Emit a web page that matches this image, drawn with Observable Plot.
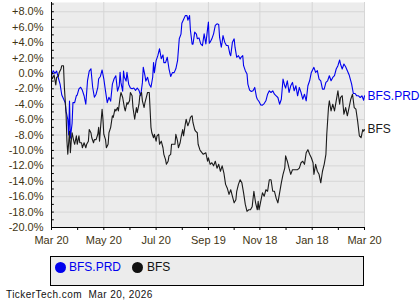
<!DOCTYPE html>
<html>
<head>
<meta charset="utf-8">
<script src="https://cdn.jsdelivr.net/npm/d3@7"></script>
<script src="https://cdn.jsdelivr.net/npm/@observablehq/plot@0.6"></script>
<style>
  html, body { margin: 0; padding: 0; background: #fff; }
  #wrap { position: relative; width: 420px; height: 300px; font-family: "Liberation Sans", Arial, sans-serif; }
  #legend { position: absolute; left: 50px; top: 256px; width: 312px; height: 28px; border: 1px solid #000; background: #ececec; }
  .dot { position: absolute; top: 5px; width: 11px; height: 11px; border-radius: 50%; }
  .lab { position: absolute; top: 3px; font-size: 12px; line-height: 14px; }
  #footer { position: absolute; left: 6px; top: 289px; font-size: 10px; line-height: 11px; letter-spacing: 0.45px; color: #111; white-space: pre; }
</style>
</head>
<body>
<div id="wrap">
  <div id="chart"></div>
  <div id="legend"></div>
  <div id="footer"></div>
</div>
<script>
const seriesNames = ["BFS.PRD", "BFS"];
const seriesColors = ["#0000ee", "#1a1a1a"];

const prdDays = [
  0,2,4,6,8,10,12,14,16,17,
  19,20,21,22,24,25,27,29,30,32,
  34,36,38,40,42,44,46,48,50,52,
  54,55,57,59,61,63,65,67,69,71,
  73,75,77,79,80,81,83,84,85,87,
  88,90,92,94,96,98,100,102,104,106,
  107,109,110,112,114,116,118,119,120,122,
  124,126,128,130,131,133,135,137,139,141,
  143,145,147,149,151,152,154,156,158,159,
  161,162,164,165,167,169,170,172,174,176,
  178,180,182,183,184,185,187,189,191,193,
  195,196,198,199,200,202,204,206,208,209,
  211,213,214,216,218,220,221,223,224,226,
  228,229,231,233,235,237,239,240,242,244,
  246,248,250,252,254,256,258,260,262,264,
  266,268,270,272,273,275,277,279,281,283,
  285,287,289,291,293,295,297,299,301,303,
  305,306,308,310,312,314,316,318,320,322,
  324,326,328,330,332,334,336,337,339,341,
  343,345,347,349,350,352,354,356,358,360,
  362,364,365
];
const prdVals = [
  -0.3,0.35,0.0,0.3,-0.6,-1.4,-2.8,-3.3,-3.8,-4.9,
  -6.0,-8.0,-3.6,-8.4,-6.5,-3.8,-3.8,-2.9,-2.8,-2.0,
  -1.8,-2.2,-2.9,-4.0,-0.95,0.3,0.6,-1.8,-3.1,-2.7,
  -1.8,-0.7,-0.4,0.44,-0.7,-2.3,-3.8,-3.1,-3.6,-1.4,
  -0.7,-0.3,-2.3,-1.6,0.13,-1.2,-2.3,0.3,-0.5,-1.0,
  0.13,-1.4,-1.9,-2.0,-1.9,-2.2,-1.9,-2.2,-2.9,-1.2,
  0.8,-0.3,-1.0,-0.5,-1.4,-1.8,-0.5,1.4,0.1,1.65,
  2.3,3.2,1.9,2.4,1.4,1.4,2.1,0.6,-0.4,0.1,
  0.1,0.6,1.65,4.5,5.1,6.5,7.0,7.5,7.5,6.9,
  7.5,5.6,3.8,3.8,5.35,5.1,4.5,4.6,3.83,3.61,
  5.13,3.83,5.78,6.65,3.91,4.05,4.48,5.13,6.22,6.44,
  6.35,4.7,3.4,4.05,4.9,4.05,3.61,3.61,2.52,2.3,
  4.05,4.48,3.4,2.09,2.3,1.87,2.09,2.3,1.0,0.35,
  -0.09,-1.39,-2.17,-2.35,-2.26,-1.82,-3.04,-3.35,-3.65,-4.09,
  -4.13,-3.91,-3.56,-2.7,-2.26,-2.48,-2.26,-2.7,-2.91,-3.13,
  -4.0,-3.35,-0.74,-1.61,-1.91,-0.96,-2.48,-1.61,-1.17,-2.26,
  -1.61,-2.91,-1.82,-2.48,-3.35,-2.7,-3.56,-1.61,-0.96,0.13,
  0.57,0.78,0.13,0.35,-0.74,-0.96,-2.04,-2.04,-1.17,-0.96,
  -0.3,-0.96,-0.52,-0.3,0.57,1.0,1.74,1.22,0.57,1.22,
  0.87,0.35,-0.17,-0.96,-1.39,-2.61,-2.61,-2.91,-2.91,-3.13,
  -2.91,-3.48,-2.91
];

const bfsDays = [
  0,1,3,5,6,8,9,11,12,14,
  15,16,17,18,19,21,22,23,24,26,
  27,29,30,32,33,35,36,38,40,41,
  43,44,46,47,49,50,52,54,55,56,
  57,59,60,61,63,64,66,67,69,71,
  72,74,75,77,78,80,81,83,85,86,
  88,89,91,92,94,95,97,99,100,102,
  103,105,106,108,109,111,112,114,116,117,
  119,120,122,123,125,126,128,130,131,133,
  134,136,137,139,140,142,144,145,147,148,
  150,151,153,154,156,157,159,161,162,164,
  165,167,168,170,171,173,174,177,180,182,
  183,185,187,189,191,193,195,197,199,201,
  203,205,207,209,211,213,215,216,218,220,
  222,224,226,228,230,232,234,236,238,240,
  241,242,244,246,248,250,252,254,256,258,
  260,262,264,266,268,270,272,273,275,277,
  279,281,283,285,287,289,291,293,295,297,
  299,301,303,305,306,308,310,312,314,316,
  318,320,321,323,324,326,328,330,332,334,
  336,337,339,341,343,345,347,349,351,353,
  355,357,359,361,363,364,365
];
const bfsVals = [
  -0.3,-0.7,-0.2,-1.5,-0.5,-0.4,0.13,0.57,1.0,1.0,
  -1.8,-3.56,-5.3,-8.8,-10.5,-7.5,-10.3,-8.8,-7.7,-8.8,
  -9.2,-8.1,-9.2,-8.1,-9.0,-9.0,-9.65,-9.0,-9.65,-9.2,
  -8.8,-7.3,-7.7,-8.35,-9.0,-8.6,-8.6,-7.9,-7.0,-8.8,
  -7.3,-4.65,-5.95,-7.9,-8.6,-9.65,-9.2,-7.7,-7.0,-5.5,
  -5.7,-4.65,-4.87,-4.43,-4.87,-3.13,-2.48,-3.13,-4.43,-4.87,
  -3.78,-4.0,-3.56,-2.48,-2.91,-4.43,-5.95,-4.43,-5.1,-4.0,
  -2.91,-2.48,-3.56,-4.43,-3.78,-2.91,-2.48,-2.48,-7.0,-7.7,
  -8.35,-7.9,-8.8,-8.1,-7.9,-9.2,-8.8,-9.65,-10.5,-11.2,
  -11.8,-11.4,-10.7,-10.5,-9.2,-9.2,-9.2,-7.9,-8.8,-9.65,
  -9.0,-8.35,-7.3,-8.1,-6.6,-5.95,-6.8,-6.2,-5.7,-5.5,
  -6.4,-7.3,-7.5,-7.7,-9.2,-9.9,-10.1,-10.5,-10.3,-11.4,
  -10.95,-11.8,-11.6,-12.0,-11.4,-12.3,-11.8,-12.7,-12.0,-12.9,
  -14.4,-14.9,-15.7,-15.1,-15.95,-16.8,-16.4,-15.3,-14.4,-13.8,
  -14.2,-15.5,-17.0,-17.9,-17.7,-17.7,-17.3,-15.3,-16.8,-17.7,
  -16.6,-17.7,-16.6,-15.5,-15.95,-15.1,-15.3,-13.8,-13.8,-15.3,
  -15.3,-16.2,-16.8,-15.5,-14.2,-13.1,-12.3,-10.7,-11.4,-12.3,
  -13.1,-12.5,-12.5,-12.5,-12.5,-12.3,-11.6,-11.4,-11.8,-10.3,
  -9.9,-10.5,-10.95,-11.6,-13.1,-11.8,-12.7,-13.1,-14.2,-12.7,
  -11.8,-10.5,-7.9,-4.43,-3.56,-4.87,-4.0,-4.87,-3.56,-2.26,
  -4.0,-3.13,-2.9,-5.3,-4.43,-5.5,-4.43,-3.35,-2.7,-4.43,
  -4.65,-6.2,-8.1,-8.35,-7.3,-7.5,-7.3
];

const xTicks = [0, 61, 122, 183, 243, 304, 365];
const xTickLabels = ["Mar 20", "May 20", "Jul 20", "Sep 19", "Nov 18", "Jan 18", "Mar 20"];
const xMinorTicks = [30.5, 91.5, 152.5, 213, 273.5, 334.5];
const yTicks = [8, 6, 4, 2, 0, -2, -4, -6, -8, -10, -12, -14, -16, -18, -20];
const yTickLabels = ["+8.0%", "+6.0%", "+4.0%", "+2.0%", "0.0%", "-2.0%", "-4.0%", "-6.0%", "-8.0%", "-10.0%", "-12.0%", "-14.0%", "-16.0%", "-18.0%", "-20.0%"];
const yMinorTicks = [9,8,7,6,5,4,3,2,1,0,-1,-2,-3,-4,-5,-6,-7,-8,-9,-10,-11,-12,-13,-14,-15,-16,-17,-18,-19];
const footerText = "TickerTech.com  Mar 20, 2026";

const prd = prdDays.map((d, i) => ({day: d, v: prdVals[i]}));
const bfs = bfsDays.map((d, i) => ({day: d, v: bfsVals[i]}));
const ends = [
  {day: prdDays[prdDays.length - 1], v: prdVals[prdVals.length - 1], name: seriesNames[0], color: seriesColors[0]},
  {day: bfsDays[bfsDays.length - 1], v: bfsVals[bfsVals.length - 1], name: seriesNames[1], color: seriesColors[1]}
];
const axisColor = "#3f3513";

const chart = Plot.plot({
  width: 420,
  height: 250,
  marginLeft: 51,
  marginRight: 56,
  marginTop: 2,
  marginBottom: 23,
  x: {domain: [0, 365]},
  y: {domain: [-20, 9.2]},
  style: {fontFamily: "'Liberation Sans', Arial, sans-serif", fontSize: "11px", color: axisColor, background: "transparent", overflow: "visible"},
  marks: [
    Plot.frame({fill: "#ececec", stroke: null}),
    Plot.gridY(yTicks, {stroke: "#d6d6d6", strokeOpacity: 1}),
    Plot.gridX(xTicks.slice(1), {stroke: "#d6d6d6", strokeOpacity: 1}),
    Plot.line(prd, {x: "day", y: "v", stroke: seriesColors[0], strokeWidth: 1.1}),
    Plot.line(bfs, {x: "day", y: "v", stroke: seriesColors[1], strokeWidth: 1.1}),
    Plot.ruleX([0], {stroke: "#000"}),
    Plot.ruleY([-20], {stroke: "#000"}),
    Plot.ruleY(yMinorTicks, {x1: 0, x2: 3.3, stroke: "#000"}),
    Plot.axisY({ticks: yTicks, tickFormat: d => yTickLabels[yTicks.indexOf(d)], tickSize: 0, tickPadding: 8, label: null, fill: axisColor}),
    Plot.axisX({ticks: xTicks, tickFormat: d => xTickLabels[xTicks.indexOf(d)], tickSize: 3, tickPadding: 6, label: null, fill: axisColor, stroke: "#000"}),
    Plot.axisX({ticks: xMinorTicks, tickFormat: () => "", tickSize: 3, label: null, stroke: "#000"}),
    Plot.text(ends, {x: "day", y: "v", text: "name", fill: "color", textAnchor: "start", dx: 3, fontSize: 12})
  ]
});
document.getElementById("chart").appendChild(chart);

const legend = document.getElementById("legend");
const legendPos = [[4, 18], [81, 96]];
seriesNames.forEach((name, i) => {
  const dot = document.createElement("div");
  dot.className = "dot";
  dot.style.left = legendPos[i][0] + "px";
  dot.style.background = i === 0 ? "#0000ee" : "#111";
  legend.appendChild(dot);
  const lab = document.createElement("div");
  lab.className = "lab";
  lab.style.left = legendPos[i][1] + "px";
  lab.style.color = i === 0 ? "#0000ee" : "#111";
  lab.textContent = name;
  legend.appendChild(lab);
});
document.getElementById("footer").textContent = footerText;
</script>
</body>
</html>
